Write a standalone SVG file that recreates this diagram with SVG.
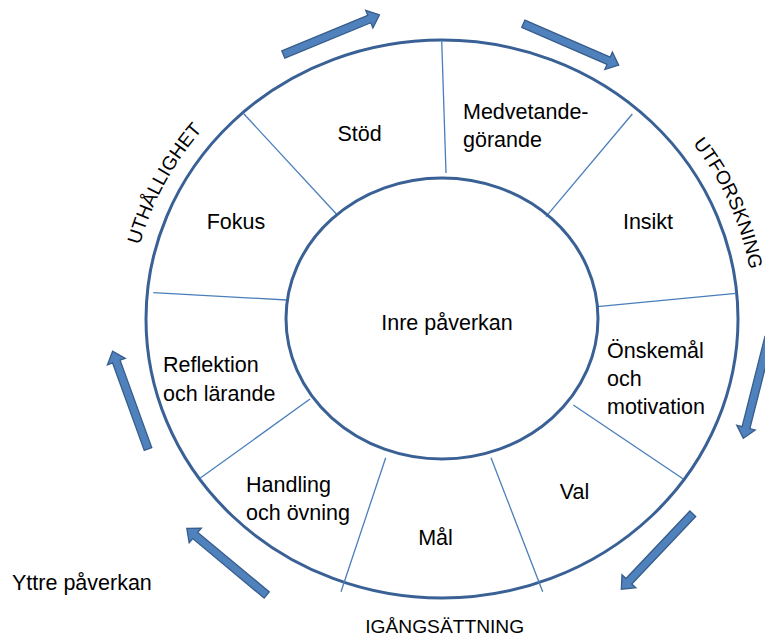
<svg xmlns="http://www.w3.org/2000/svg" xmlns:xlink="http://www.w3.org/1999/xlink" width="765" height="639" viewBox="0 0 765 639">
<style>
.ring{fill:none;stroke:#3A6195;stroke-width:3}
.spoke{stroke:#4A7EBB;stroke-width:1.3;fill:none}
.arrow{fill:#4F81BD;stroke:#385D8A;stroke-width:1.3;stroke-linejoin:miter}
.lbl{font-family:"Liberation Sans",Arial,sans-serif;font-size:21.5px;fill:#000}
.cap{font-family:"Liberation Sans",Arial,sans-serif;font-size:19.2px;fill:#000}
.mid{text-anchor:middle}
</style>
<defs>
<path id="arr" d="M0,-4 H93 V-9.5 L104,0 L93,9.5 V4 H0 Z"/>
<path id="pathUth" d="M139.9,245.1 A312 295 0 0 1 335.3 41.8"/>
<path id="pathUtf" d="M692.8,143.5 A312 295 0 0 1 735.2 419.9"/>
</defs>
<rect width="765" height="639" fill="#fff"/>
<g id="outer"><ellipse class="ring" cx="442" cy="319" rx="296" ry="279"/></g>
<g id="connectors">
<line class="spoke" x1="441.7" y1="40" x2="446" y2="173"/>
<line class="spoke" x1="243.3" y1="113.3" x2="337.3" y2="215"/>
<line class="spoke" x1="632.3" y1="114" x2="546" y2="216.7"/>
<line class="spoke" x1="153.3" y1="292.7" x2="286.7" y2="300"/>
<line class="spoke" x1="597.3" y1="306.7" x2="736" y2="293.3"/>
<line class="spoke" x1="310" y1="399" x2="200" y2="478.3"/>
<line class="spoke" x1="573.3" y1="405" x2="683.3" y2="479"/>
<line class="spoke" x1="385.7" y1="457.7" x2="341" y2="591.7"/>
<line class="spoke" x1="491" y1="457.7" x2="542.7" y2="591.7"/>
<use href="#arr" xlink:href="#arr" class="arrow" transform="translate(283.3,54.5) rotate(-22.4)"/>
<use href="#arr" xlink:href="#arr" class="arrow" transform="translate(523.3,23.7) rotate(23.5)"/>
<use href="#arr" xlink:href="#arr" class="arrow" transform="translate(768.8,337.5) rotate(104.2)"/>
<use href="#arr" xlink:href="#arr" class="arrow" transform="translate(692.8,513.7) rotate(133.4)"/>
<use href="#arr" xlink:href="#arr" class="arrow" transform="translate(266.7,595) rotate(-140.2)"/>
<use href="#arr" xlink:href="#arr" class="arrow" transform="translate(148,449) rotate(-109.9)"/>
</g>
<g id="inner"><ellipse class="ring" cx="442" cy="318.5" rx="156" ry="140.5"/><text class="lbl mid" x="447" y="330">Inre påverkan</text></g>
<g id="stod"><text class="lbl mid" x="359.5" y="140.5">Stöd</text></g>
<g id="medvetande"><text class="lbl" x="463" y="119">Medvetande-</text><text class="lbl" x="463" y="147">görande</text></g>
<g id="insikt"><text class="lbl mid" x="648" y="229">Insikt</text></g>
<g id="onskemal"><text class="lbl" x="607" y="358">Önskemål</text><text class="lbl" x="607" y="386">och</text><text class="lbl" x="607" y="414">motivation</text></g>
<g id="val"><text class="lbl mid" x="574.5" y="499">Val</text></g>
<g id="mal"><text class="lbl mid" x="435.5" y="545">Mål</text></g>
<g id="handling"><text class="lbl" x="246" y="492">Handling</text><text class="lbl" x="246" y="520">och övning</text></g>
<g id="reflektion"><text class="lbl" x="163" y="372">Reflektion</text><text class="lbl" x="163" y="401">och lärande</text></g>
<g id="fokus"><text class="lbl mid" x="236" y="229">Fokus</text></g>
<g id="labels">
<text class="cap"><textPath href="#pathUth" xlink:href="#pathUth">UTHÅLLIGHET</textPath></text>
<text class="cap"><textPath href="#pathUtf" xlink:href="#pathUtf">UTFORSKNING</textPath></text>
<text class="cap mid" x="444.7" y="633">IGÅNGSÄTTNING</text>
<text class="lbl" x="12" y="590">Yttre påverkan</text>
</g>
</svg>
